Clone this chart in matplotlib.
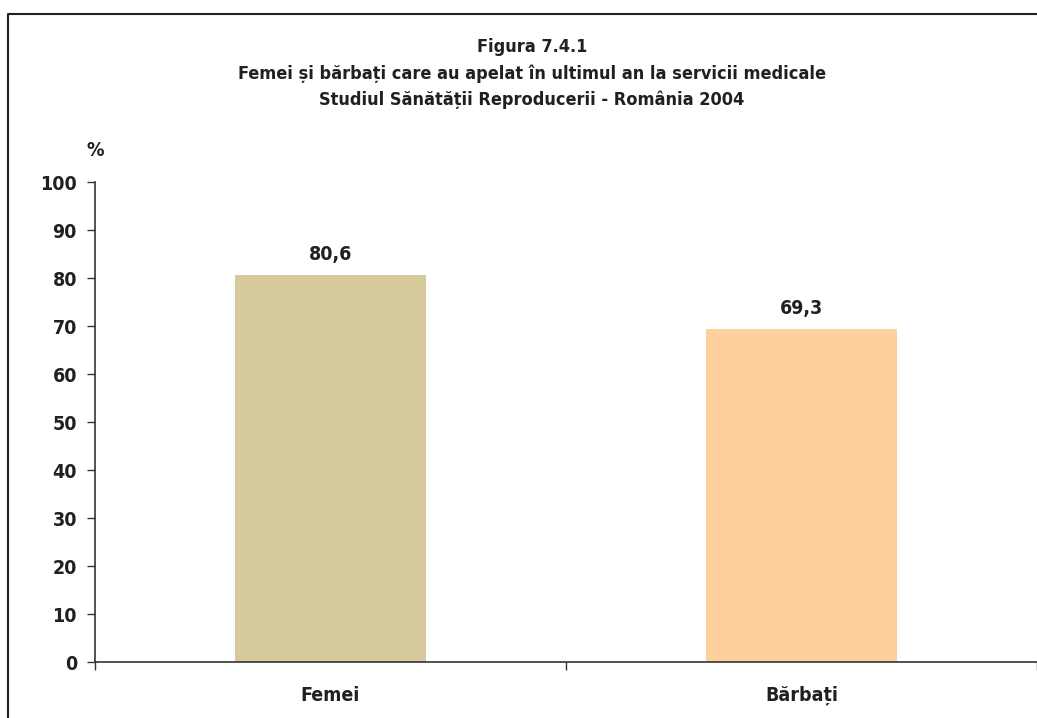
import matplotlib.pyplot as plt
from matplotlib.lines import Line2D

categories = ['Femei', 'Bărbați']
values = [80.6, 69.3]
value_labels = ['80,6', '69,3']
bar_colors = ['#D6C99C', '#FDD09E']
yticks = [0, 10, 20, 30, 40, 50, 60, 70, 80, 90, 100]
title_lines = ['Figura 7.4.1',
               'Femei și bărbați care au apelat în ultimul an la servicii medicale',
               'Studiul Sănătății Reproducerii - România 2004']

plt.rcParams['font.family'] = ['DejaVu Sans']
plt.rcParams['font.stretch'] = 'condensed'
plt.rcParams['font.weight'] = 'bold'
text_color = '#231F20'
fs = 14

fig = plt.figure(figsize=(10.37, 7.18), dpi=100)
ax = fig.add_axes([95 / 1037, 1 - 662 / 718, 1 - 95 / 1037, (662 - 182) / 718])

x = range(len(categories))
ax.bar(x, values, width=0.405, color=bar_colors, zorder=2)

for i, v in enumerate(values):
    ax.annotate(value_labels[i], (i, v), xytext=(0, 11), textcoords='offset points',
                ha='center', va='baseline', fontsize=fs, fontweight='bold', color=text_color)

ax.set_ylim(0, 100)
ax.set_xlim(-0.5, len(categories) - 0.5)
ax.set_yticks(yticks)
ax.set_yticklabels([str(t) for t in yticks], fontsize=fs, fontweight='bold', color=text_color)

ax.set_xticks([i - 0.5 for i in range(len(categories) + 1)])
ax.set_xticklabels([])
ax.set_xticks(list(x), minor=True)
ax.set_xticklabels(categories, minor=True, fontsize=fs, fontweight='bold', color=text_color)
ax.tick_params(axis='x', which='minor', length=0, pad=17)
ax.tick_params(axis='x', which='major', length=6, width=1, color='#333333', direction='out')
ax.tick_params(axis='y', length=6, width=1, color='#333333', pad=7)

for s in ['top', 'right']:
    ax.spines[s].set_visible(False)
for s in ['left', 'bottom']:
    ax.spines[s].set_color('#333333')
    ax.spines[s].set_linewidth(1.2)

ax.text(0, 1.045, '%', transform=ax.transAxes, ha='center', va='bottom',
        fontsize=fs, fontweight='bold', color=text_color)

for k, line in enumerate(title_lines):
    fig.text(532 / 1037, 1 - (47 + 26.5 * k) / 718, line, ha='center', va='center',
             fontsize=13, fontweight='bold', color=text_color)

# frame around the figure (top and left visible)
fig.add_artist(Line2D([8 / 1037, 8 / 1037, 1.0], [0.0, 1 - 14 / 718, 1 - 14 / 718],
                      transform=fig.transFigure, color='#222222', linewidth=1.5))

fig.savefig('out.png', dpi=100)
